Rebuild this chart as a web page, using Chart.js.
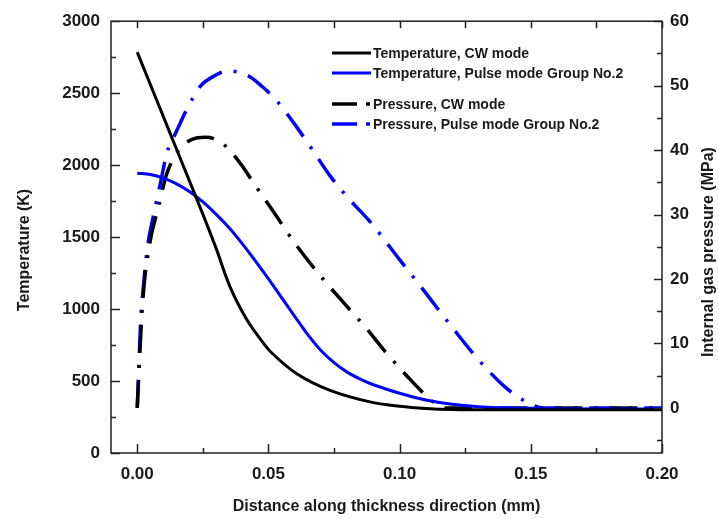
<!DOCTYPE html>
<html>
<head>
<meta charset="utf-8">
<script src="https://cdn.jsdelivr.net/npm/chart.js@4.4.1/dist/chart.umd.min.js"></script>
<style>
  html, body { margin: 0; padding: 0; background: #fff; }
  canvas { display: block; }
</style>
</head>
<body>
<canvas id="thicknessChart" width="719" height="519"></canvas>
<script>
// Temperature, CW mode (K)
const tempCwX = [0, 0.005, 0.01, 0.015, 0.02, 0.025, 0.03, 0.0355, 0.0418, 0.047, 0.0513, 0.0608, 0.0735, 0.0887, 0.1, 0.11, 0.12, 0.14, 0.16, 0.18, 0.2];
const tempCwY = [2785, 2560, 2335, 2110, 1885, 1660, 1425, 1149, 925, 790, 695, 551, 435, 355, 325, 310, 303, 300, 300, 300, 300];

// Temperature, Pulse mode Group No.2 (K)
const tempPulseX = [0, 0.005, 0.01, 0.015, 0.02, 0.025, 0.03, 0.035, 0.04, 0.045, 0.05, 0.055, 0.06, 0.065, 0.07, 0.075, 0.08, 0.085, 0.09, 0.1, 0.11, 0.12, 0.13, 0.14, 0.16, 0.2];
const tempPulseY = [1944, 1935, 1910, 1870, 1815, 1745, 1660, 1565, 1455, 1335, 1210, 1080, 950, 822, 712, 628, 562, 513, 474, 415, 368, 338, 322, 314, 308, 305];

// Pressure, CW mode (MPa)
const presCwX = [0, 0.002, 0.005, 0.008, 0.011, 0.015, 0.02, 0.026, 0.032, 0.039, 0.045, 0.052, 0.06, 0.07, 0.08, 0.087, 0.095, 0.105, 0.112, 0.117, 0.14, 0.17, 0.2];
const presCwY = [0, 16, 26, 31, 36, 39.5, 41.5, 42, 41.2, 38.1, 34.5, 30.4, 25.6, 20.4, 15.7, 12.5, 8.5, 4, 1.2, 0, 0, 0, 0];

// Pressure, Pulse mode Group No.2 (MPa)
const presPulseX = [0, 0.0006, 0.0013, 0.0025, 0.0038, 0.0057, 0.0089, 0.0114, 0.0139, 0.0165, 0.0196, 0.024, 0.0298, 0.0342, 0.0424, 0.0475, 0.0526, 0.0595, 0.0665, 0.0735, 0.0805, 0.0887, 0.1, 0.11, 0.12, 0.13, 0.14, 0.148, 0.155, 0.18, 0.2];
const presPulseY = [0, 6.2, 13.4, 19.5, 24.7, 28.9, 35, 39.7, 42, 44.3, 46.9, 49.9, 51.6, 52.3, 51.5, 49.9, 47.9, 44.3, 40.2, 36, 32.5, 28.9, 23, 17.8, 12.5, 7.5, 3.3, 1, 0, 0, 0];

const seriesLabels = [
  'Temperature, CW mode',
  'Temperature, Pulse mode Group No.2',
  'Pressure, CW mode',
  'Pressure, Pulse mode Group No.2'
];

const xTicks = [0, 0.05, 0.1, 0.15, 0.2];
const tempTicks = [0, 500, 1000, 1500, 2000, 2500, 3000];
const presTicks = [0, 10, 20, 30, 40, 50, 60];

const FONT = '"Liberation Sans", Arial, sans-serif';
const INK = '#1a1a1a';
const BLUE = '#0000ff';
const DASH_DOT = [28, 12, 3, 12];

function toPoints(xs, ys) {
  return xs.map((x, i) => ({ x: x, y: ys[i] }));
}

// frame + inward ticks, like the origin-style plot
const frameTicks = {
  id: 'frameTicks',
  afterDraw(chart) {
    const { ctx, chartArea: a, scales } = chart;
    const xs = scales.x, yl = scales.yTemp, yr = scales.yPres;
    ctx.save();
    ctx.strokeStyle = '#222';
    ctx.lineWidth = 1.5;
    ctx.strokeRect(a.left, a.top, a.right - a.left, a.bottom - a.top);
    ctx.beginPath();
    for (let v = 0; v <= 0.2001; v += 0.025) {
      const px = Math.round(xs.getPixelForValue(v)) + 0.5;
      const major = Math.abs(v / 0.05 - Math.round(v / 0.05)) < 1e-6;
      ctx.moveTo(px, a.bottom); ctx.lineTo(px, a.bottom - (major ? 9 : 5));
      ctx.moveTo(px, a.top); ctx.lineTo(px, a.top + 7);
    }
    for (let v = 0; v <= 3000; v += 250) {
      const py = Math.round(yl.getPixelForValue(v)) + 0.5;
      ctx.moveTo(a.left, py); ctx.lineTo(a.left + (v % 500 === 0 ? 9 : 5), py);
    }
    for (let v = -5; v <= 60; v += 5) {
      const py = Math.round(yr.getPixelForValue(v)) + 0.5;
      ctx.moveTo(a.right, py); ctx.lineTo(a.right - (v % 10 === 0 ? 8 : 5), py);
    }
    ctx.stroke();
    ctx.restore();
  }
};

// axis titles
const axisTitles = {
  id: 'axisTitles',
  afterDraw(chart) {
    const { ctx, chartArea: a } = chart;
    ctx.save();
    ctx.fillStyle = INK;
    ctx.font = 'bold 16px ' + FONT;
    ctx.textAlign = 'center';
    ctx.textBaseline = 'middle';
    ctx.fillText('Distance along thickness direction (mm)', (a.left + a.right) / 2, 507);
    ctx.translate(25, 250);
    ctx.rotate(-Math.PI / 2);
    ctx.fillText('Temperature (K)', 0, 0);
    ctx.restore();
    ctx.save();
    ctx.fillStyle = INK;
    ctx.font = 'bold 16px ' + FONT;
    ctx.textAlign = 'center';
    ctx.textBaseline = 'middle';
    ctx.translate(709, 252);
    ctx.rotate(-Math.PI / 2);
    ctx.fillText('Internal gas pressure (MPa)', 0, 0);
    ctx.restore();
  }
};

// legend with a gap between the two groups
const groupedLegend = {
  id: 'groupedLegend',
  afterDraw(chart) {
    const ctx = chart.ctx;
    const rows = [53, 73, 104, 124];
    ctx.save();
    ctx.font = 'bold 14px ' + FONT;
    ctx.textBaseline = 'middle';
    ctx.textAlign = 'left';
    chart.data.datasets.forEach((ds, i) => {
      const y = rows[i];
      ctx.strokeStyle = ds.borderColor;
      ctx.lineWidth = ds.borderWidth;
      ctx.setLineDash([]);
      if (ds.borderDash && ds.borderDash.length) {
        ctx.beginPath(); ctx.moveTo(332, y); ctx.lineTo(357, y); ctx.stroke();
        ctx.beginPath(); ctx.moveTo(366, y); ctx.lineTo(370, y); ctx.stroke();
      } else {
        ctx.beginPath(); ctx.moveTo(332, y); ctx.lineTo(371, y); ctx.stroke();
      }
      ctx.fillStyle = INK;
      ctx.fillText(ds.label, 373, y + 1);
    });
    ctx.restore();
  }
};

const ctx = document.getElementById('thicknessChart').getContext('2d');
const chart = new Chart(ctx, {
  type: 'line',
  data: {
    datasets: [
      {
        label: seriesLabels[0],
        data: toPoints(tempCwX, tempCwY),
        yAxisID: 'yTemp',
        borderColor: '#000000',
        borderWidth: 3,
        cubicInterpolationMode: 'default',
        tension: 0.35
      },
      {
        label: seriesLabels[1],
        data: toPoints(tempPulseX, tempPulseY),
        yAxisID: 'yTemp',
        borderColor: BLUE,
        borderWidth: 3,
        cubicInterpolationMode: 'default',
        tension: 0.35
      },
      {
        label: seriesLabels[2],
        data: toPoints(presCwX, presCwY),
        yAxisID: 'yPres',
        borderColor: '#000000',
        borderWidth: 3.5,
        borderDash: DASH_DOT
      },
      {
        label: seriesLabels[3],
        data: toPoints(presPulseX, presPulseY),
        yAxisID: 'yPres',
        borderColor: BLUE,
        borderWidth: 3.5,
        borderDash: DASH_DOT
      }
    ]
  },
  options: {
    responsive: false,
    animation: false,
    layout: { padding: { top: 18, left: 0, right: 0, bottom: 0 } },
    elements: {
      point: { radius: 0 },
      line: { cubicInterpolationMode: 'monotone', fill: false }
    },
    plugins: {
      legend: { display: false },
      tooltip: { enabled: false }
    },
    scales: {
      x: {
        type: 'linear',
        min: -0.01,
        max: 0.2,
        grid: { display: false, drawTicks: false },
        border: { display: false },
        afterBuildTicks: s => { s.ticks = xTicks.map(v => ({ value: v })); },
        afterFit: s => { s.height = 66; },
        ticks: {
          padding: 11,
          color: INK,
          font: { family: FONT, size: 17, weight: 'bold' },
          maxRotation: 0,
          callback: v => v.toFixed(2)
        }
      },
      yTemp: {
        type: 'linear',
        position: 'left',
        min: 0,
        max: 3000,
        grid: { display: false, drawTicks: false },
        border: { display: false },
        afterBuildTicks: s => { s.ticks = tempTicks.map(v => ({ value: v })); },
        afterFit: s => { s.width = 111; },
        ticks: {
          padding: 11,
          color: INK,
          font: { family: FONT, size: 17, weight: 'bold' },
          callback: v => String(v)
        }
      },
      yPres: {
        type: 'linear',
        position: 'right',
        min: -7,
        max: 60,
        grid: { display: false, drawTicks: false },
        border: { display: false },
        afterBuildTicks: s => { s.ticks = presTicks.map(v => ({ value: v })); },
        afterFit: s => { s.width = 57; },
        ticks: {
          padding: 8,
          color: INK,
          font: { family: FONT, size: 17, weight: 'bold' },
          callback: v => String(v)
        }
      }
    }
  },
  plugins: [frameTicks, axisTitles, groupedLegend]
});
</script>
</body>
</html>
